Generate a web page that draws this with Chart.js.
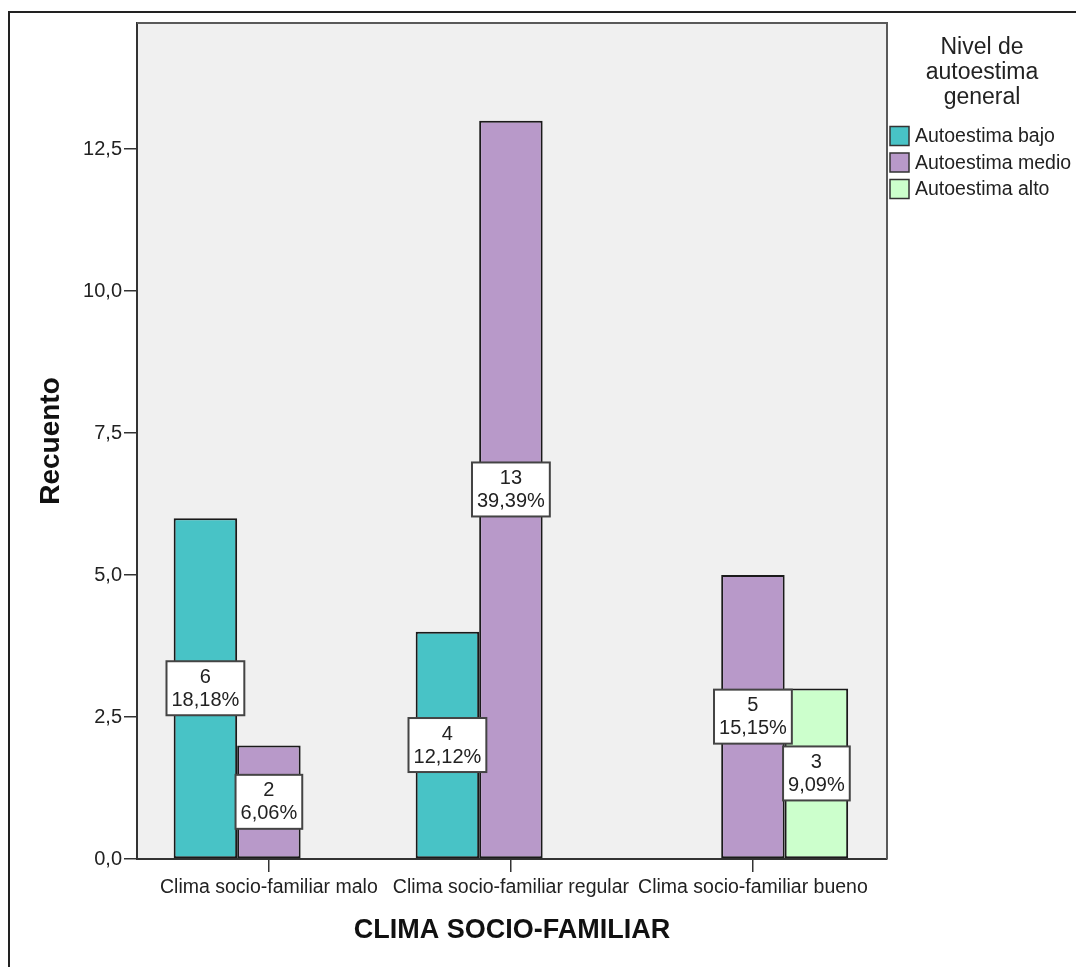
<!DOCTYPE html>
<html>
<head>
<meta charset="utf-8">
<script src="https://cdn.jsdelivr.net/npm/chart.js@4/dist/chart.umd.min.js"></script>
<style>
  body { margin: 0; background: #fff; }
  canvas { display: block; }
</style>
</head>
<body>
<canvas id="chart" width="1076" height="967"></canvas>
<script>
const categories = ['Clima socio-familiar malo', 'Clima socio-familiar regular', 'Clima socio-familiar bueno'];
const seriesNames = ['Autoestima bajo', 'Autoestima medio', 'Autoestima alto'];
const bajo = [6, 4, null];
const medio = [2, 13, 5];
const alto = [null, null, 3];
const bajoPct = ['18,18%', '12,12%', null];
const medioPct = ['6,06%', '39,39%', '15,15%'];
const altoPct = [null, null, '9,09%'];
const yTicks = [0, 2.5, 5, 7.5, 10, 12.5];

const FONT = '"Liberation Sans", Arial, sans-serif';
const colors = ['#48c3c6', '#b899c9', '#ccffcc'];
const pcts = [bajoPct, medioPct, altoPct];

const toPoints = arr => arr.map((v, i) => ({ x: i, y: v }));

const sheet = {
  id: 'sheet',
  beforeDraw(chart) {
    const { ctx, chartArea: a } = chart;
    ctx.save();
    ctx.fillStyle = '#f0f0f0';
    ctx.fillRect(a.left, a.top, a.right - a.left, a.bottom - a.top);
    ctx.restore();
  },
  afterDatasetsDraw(chart) {
    const { ctx, chartArea: a } = chart;
    ctx.save();
    // top and right edges of the plot box
    ctx.strokeStyle = '#5a5a5a';
    ctx.lineWidth = 2;
    ctx.beginPath();
    ctx.moveTo(a.left, a.top);
    ctx.lineTo(a.right, a.top);
    ctx.lineTo(a.right, a.bottom);
    ctx.stroke();

    // value labels in the middle of each bar
    ctx.font = '20px ' + FONT;
    ctx.textAlign = 'center';
    ctx.textBaseline = 'middle';
    chart.data.datasets.forEach((ds, d) => {
      chart.getDatasetMeta(d).data.forEach((bar, i) => {
        const v = ds.data[i].y;
        if (v === null) return;
        const l1 = String(v), l2 = pcts[d][i];
        const w = Math.max(ctx.measureText(l1).width, ctx.measureText(l2).width) + 10;
        const h = 54;
        const cx = bar.x, cy = (bar.y + bar.base) / 2;
        ctx.fillStyle = '#fff';
        ctx.fillRect(cx - w / 2, cy - h / 2, w, h);
        ctx.strokeStyle = '#444';
        ctx.lineWidth = 2;
        ctx.strokeRect(cx - w / 2, cy - h / 2, w, h);
        ctx.fillStyle = '#222';
        ctx.fillText(l1, cx, cy - 11);
        ctx.fillText(l2, cx, cy + 12);
      });
    });
    ctx.restore();
  },
  afterDraw(chart) {
    const { ctx } = chart;
    ctx.save();
    // outer frame
    ctx.strokeStyle = '#222';
    ctx.lineWidth = 2;
    ctx.beginPath();
    ctx.moveTo(9, 967);
    ctx.lineTo(9, 12);
    ctx.lineTo(1076, 12);
    ctx.stroke();

    // legend
    ctx.fillStyle = '#222';
    ctx.textAlign = 'center';
    ctx.textBaseline = 'middle';
    ctx.font = '23px ' + FONT;
    ['Nivel de', 'autoestima', 'general'].forEach((t, i) => ctx.fillText(t, 982, 48 + i * 25));
    ctx.textAlign = 'left';
    ctx.font = '19.5px ' + FONT;
    chart.data.datasets.forEach((ds, i) => {
      const y = 136 + i * 26.5;
      ctx.fillStyle = ds.backgroundColor;
      ctx.fillRect(890, y - 9.5, 19, 19);
      ctx.strokeStyle = '#333';
      ctx.lineWidth = 1.5;
      ctx.strokeRect(890, y - 9.5, 19, 19);
      ctx.fillStyle = '#222';
      ctx.fillText(ds.label, 915, y + 1);
    });
    ctx.restore();
  }
};

new Chart(document.getElementById('chart'), {
  type: 'bar',
  data: {
    datasets: [bajo, medio, alto].map((arr, i) => ({
      label: seriesNames[i],
      data: toPoints(arr),
      backgroundColor: colors[i],
      borderColor: '#1a1a1a',
      borderWidth: 2,
      borderSkipped: false,
      categoryPercentage: 0.787,
      barPercentage: 1
    }))
  },
  options: {
    responsive: false,
    animation: false,
    layout: { padding: { top: 23, right: 189, left: 0, bottom: 0 } },
    plugins: { legend: { display: false }, tooltip: { enabled: false } },
    scales: {
      x: {
        type: 'linear',
        min: -0.545,
        max: 2.554,
        offset: false,
        afterFit: s => { s.height = 108; },
        grid: { offset: false, drawOnChartArea: false, tickLength: 13, color: '#333', lineWidth: 1.5 },
        border: { display: true, color: '#333', width: 2 },
        ticks: {
          stepSize: 1,
          includeBounds: false,
          autoSkip: false,
          maxRotation: 0,
          minRotation: 0,
          padding: 4,
          color: '#222',
          font: { family: FONT, size: 19.5 },
          callback: v => Number.isInteger(v) ? categories[v] : ''
        },
        title: {
          display: true,
          text: 'CLIMA SOCIO-FAMILIAR',
          color: '#111',
          font: { family: FONT, size: 27, weight: 'bold' },
          padding: { top: 0, bottom: 20 }
        }
      },
      y: {
        min: 0,
        max: 14.72,
        afterFit: s => { s.width = 137; },
        afterBuildTicks: s => { s.ticks = yTicks.map(v => ({ value: v })); },
        grid: { drawOnChartArea: false, tickLength: 13, color: '#333', lineWidth: 1.5 },
        border: { display: true, color: '#333', width: 2 },
        ticks: {
          padding: 2,
          color: '#222',
          font: { family: FONT, size: 20 },
          callback: v => v.toFixed(1).replace('.', ',')
        },
        title: {
          display: true,
          text: 'Recuento',
          color: '#111',
          font: { family: FONT, size: 28, weight: 'bold' },
          padding: { top: 34, bottom: 0 }
        }
      }
    }
  },
  plugins: [sheet]
});
</script>
</body>
</html>
